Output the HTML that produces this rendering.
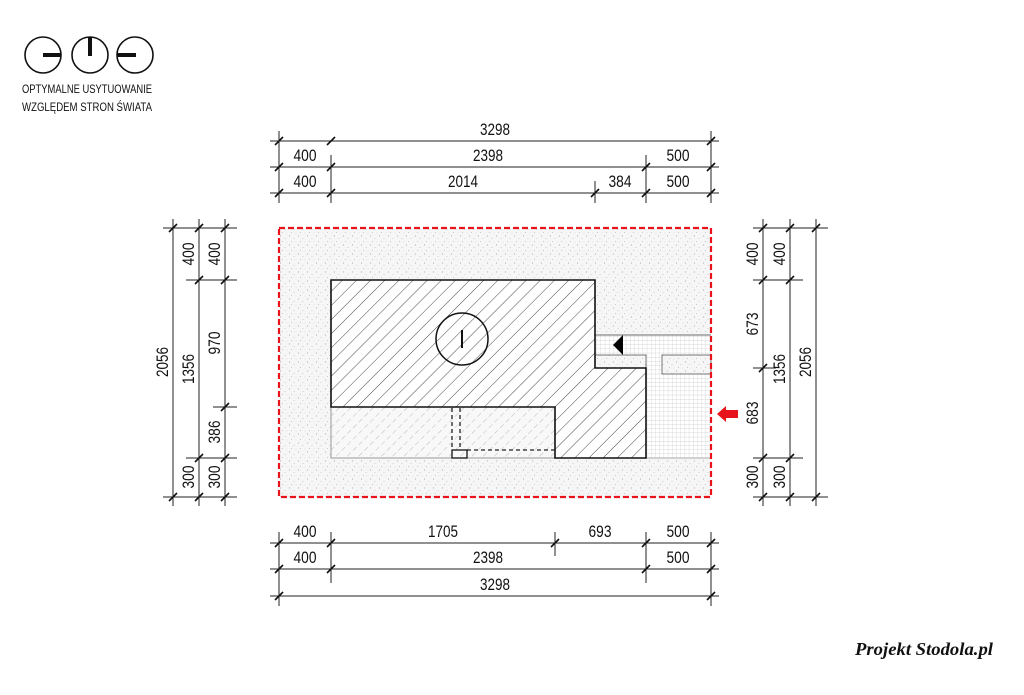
<!DOCTYPE html>
<html><head><meta charset="utf-8"><style>
html,body{margin:0;padding:0;background:#fff;}
svg{display:block;}
text{font-family:"Liberation Sans",sans-serif;fill:#111;}
</style></head><body>
<svg width="1024" height="695" viewBox="0 0 1024 695" xmlns="http://www.w3.org/2000/svg">
<defs>
<pattern id="dots" width="9" height="9" patternUnits="userSpaceOnUse">
<rect width="9" height="9" fill="#f6f6f6"/>
<circle cx="1.5" cy="2" r="0.6" fill="#b5b5b5"/><circle cx="6" cy="4.5" r="0.5" fill="#c0c0c0"/><circle cx="3.5" cy="7.5" r="0.5" fill="#b8b8b8"/><circle cx="8" cy="8" r="0.4" fill="#ccc"/>
</pattern>
<pattern id="hatch" width="10" height="10" patternUnits="userSpaceOnUse" patternTransform="rotate(45)">
<rect width="10" height="10" fill="#fff"/><line x1="0" y1="0" x2="0" y2="10" stroke="#333" stroke-width="0.9"/>
</pattern>
<pattern id="hatch2" width="8" height="8" patternUnits="userSpaceOnUse" patternTransform="rotate(45)">
<rect width="8" height="8" fill="#f8f8f8"/><line x1="0" y1="0" x2="0" y2="5" stroke="#aaa" stroke-width="0.8"/>
</pattern>
<pattern id="grid" width="4.2" height="4.2" patternUnits="userSpaceOnUse">
<rect width="4.2" height="4.2" fill="#fff"/><path d="M0 0H4.2M0 0V4.2" stroke="#c8c8c8" stroke-width="0.6"/>
</pattern>
</defs>

<g stroke="#111" fill="none" stroke-width="1.6">
<circle cx="43" cy="55" r="18"/><circle cx="90" cy="55" r="18"/><circle cx="135" cy="55" r="18"/>
</g>
<g stroke="#111" stroke-width="4">
<line x1="43" y1="55" x2="61" y2="55"/><line x1="90" y1="37" x2="90" y2="56"/><line x1="117" y1="55" x2="136" y2="55"/>
</g>
<text x="22" y="93" font-size="12" textLength="130" lengthAdjust="spacingAndGlyphs">OPTYMALNE USYTUOWANIE</text>
<text x="22" y="111" font-size="12" textLength="130" lengthAdjust="spacingAndGlyphs">WZGLĘDEM STRON ŚWIATA</text>

<rect x="279" y="228" width="432" height="269" fill="url(#dots)"/>
<path d="M595 335H711V458H646V368H595Z" fill="url(#grid)"/>
<rect x="595" y="355" width="51" height="13" fill="url(#dots)" stroke="#777" stroke-width="1"/>
<rect x="662" y="355" width="49" height="19" fill="url(#dots)" stroke="#777" stroke-width="1"/>
<line x1="595" y1="335" x2="711" y2="335" stroke="#888" stroke-width="1.2"/>
<line x1="646" y1="458" x2="711" y2="458" stroke="#aaa" stroke-width="1"/>
<rect x="331" y="407" width="224" height="51" fill="url(#hatch2)" stroke="#999" stroke-width="1"/>
<path d="M331 280H595V368H646V458H555V407H331Z" fill="url(#hatch)" stroke="#111" stroke-width="1.6"/>
<circle cx="462" cy="339" r="26" fill="none" stroke="#111" stroke-width="1.5"/>
<line x1="462" y1="330" x2="462" y2="348" stroke="#111" stroke-width="2"/>
<polygon points="613,345 623,335 623,355" fill="#000"/>
<g stroke="#222" stroke-width="1.3" stroke-dasharray="4,3" fill="none">
<line x1="452" y1="408" x2="452" y2="450"/><line x1="460" y1="408" x2="460" y2="450"/>
<line x1="467" y1="450" x2="555" y2="450"/>
</g>
<rect x="452" y="450" width="15" height="8" fill="none" stroke="#111" stroke-width="1.3"/>
<rect x="279" y="228" width="432" height="269" fill="none" stroke="#e8141c" stroke-width="2.2" stroke-dasharray="6,3"/>
<polygon points="717,414 726,406 726,410 738,410 738,418 726,418 726,422" fill="#e8141c"/>

<g stroke="#222" stroke-width="1" fill="none">
<line x1="270" y1="141" x2="719" y2="141"/><line x1="270" y1="167" x2="719" y2="167"/><line x1="270" y1="193" x2="719" y2="193"/>
<line x1="279" y1="131" x2="279" y2="203"/><line x1="711" y1="131" x2="711" y2="203"/>
<line x1="331" y1="155" x2="331" y2="203"/><line x1="646" y1="155" x2="646" y2="203"/><line x1="595" y1="181" x2="595" y2="203"/>
<line x1="270" y1="543" x2="719" y2="543"/><line x1="270" y1="569" x2="719" y2="569"/><line x1="270" y1="596" x2="719" y2="596"/>
<line x1="279" y1="532" x2="279" y2="606"/><line x1="711" y1="532" x2="711" y2="606"/>
<line x1="331" y1="532" x2="331" y2="583"/><line x1="646" y1="532" x2="646" y2="583"/><line x1="555" y1="532" x2="555" y2="556"/>
<line x1="173" y1="219" x2="173" y2="506"/><line x1="199" y1="219" x2="199" y2="506"/><line x1="225" y1="219" x2="225" y2="506"/>
<line x1="163" y1="228" x2="237" y2="228"/><line x1="163" y1="497" x2="237" y2="497"/>
<line x1="186" y1="280" x2="237" y2="280"/><line x1="186" y1="458" x2="237" y2="458"/><line x1="213" y1="407" x2="237" y2="407"/>
<line x1="763" y1="219" x2="763" y2="506"/><line x1="790" y1="219" x2="790" y2="506"/><line x1="816" y1="219" x2="816" y2="506"/>
<line x1="753" y1="228" x2="828" y2="228"/><line x1="753" y1="497" x2="828" y2="497"/>
<line x1="753" y1="280" x2="803" y2="280"/><line x1="753" y1="458" x2="803" y2="458"/><line x1="753" y1="368" x2="776" y2="368"/>
</g>
<g stroke="#111" stroke-width="1.6">
<path d="M275 145l8-8M327 145l8-8M707 145l8-8"/>
<path d="M275 171l8-8M327 171l8-8M642 171l8-8M707 171l8-8"/>
<path d="M275 197l8-8M327 197l8-8M591 197l8-8M642 197l8-8M707 197l8-8"/>
<path d="M275 547l8-8M327 547l8-8M551 547l8-8M642 547l8-8M707 547l8-8"/>
<path d="M275 573l8-8M327 573l8-8M642 573l8-8M707 573l8-8"/>
<path d="M275 600l8-8M707 600l8-8"/>
<path d="M169 232l8-8M169 501l8-8M195 232l8-8M195 284l8-8M195 462l8-8M195 501l8-8M221 232l8-8M221 284l8-8M221 411l8-8M221 462l8-8M221 501l8-8"/>
<path d="M759 232l8-8M759 284l8-8M759 372l8-8M759 462l8-8M759 501l8-8M786 232l8-8M786 284l8-8M786 462l8-8M786 501l8-8M812 232l8-8M812 501l8-8"/>
</g>
<g font-size="17" text-anchor="middle" lengthAdjust="spacingAndGlyphs">
<text x="495" y="135" textLength="30" lengthAdjust="spacingAndGlyphs">3298</text>
<text x="305" y="161" textLength="23" lengthAdjust="spacingAndGlyphs">400</text><text x="488" y="161" textLength="30" lengthAdjust="spacingAndGlyphs">2398</text><text x="678" y="161" textLength="23" lengthAdjust="spacingAndGlyphs">500</text>
<text x="305" y="187" textLength="23" lengthAdjust="spacingAndGlyphs">400</text><text x="463" y="187" textLength="30" lengthAdjust="spacingAndGlyphs">2014</text><text x="620" y="187" textLength="23" lengthAdjust="spacingAndGlyphs">384</text><text x="678" y="187" textLength="23" lengthAdjust="spacingAndGlyphs">500</text>
<text x="305" y="537" textLength="23" lengthAdjust="spacingAndGlyphs">400</text><text x="443" y="537" textLength="30" lengthAdjust="spacingAndGlyphs">1705</text><text x="600" y="537" textLength="23" lengthAdjust="spacingAndGlyphs">693</text><text x="678" y="537" textLength="23" lengthAdjust="spacingAndGlyphs">500</text>
<text x="305" y="563" textLength="23" lengthAdjust="spacingAndGlyphs">400</text><text x="488" y="563" textLength="30" lengthAdjust="spacingAndGlyphs">2398</text><text x="678" y="563" textLength="23" lengthAdjust="spacingAndGlyphs">500</text>
<text x="495" y="590" textLength="30" lengthAdjust="spacingAndGlyphs">3298</text>
<text transform="translate(168,362) rotate(-90)" textLength="30" lengthAdjust="spacingAndGlyphs">2056</text>
<text transform="translate(194,369) rotate(-90)" textLength="30" lengthAdjust="spacingAndGlyphs">1356</text>
<text transform="translate(194,254) rotate(-90)" textLength="23" lengthAdjust="spacingAndGlyphs">400</text>
<text transform="translate(220,254) rotate(-90)" textLength="23" lengthAdjust="spacingAndGlyphs">400</text>
<text transform="translate(220,343) rotate(-90)" textLength="23" lengthAdjust="spacingAndGlyphs">970</text>
<text transform="translate(220,432) rotate(-90)" textLength="23" lengthAdjust="spacingAndGlyphs">386</text>
<text transform="translate(194,477) rotate(-90)" textLength="23" lengthAdjust="spacingAndGlyphs">300</text>
<text transform="translate(220,477) rotate(-90)" textLength="23" lengthAdjust="spacingAndGlyphs">300</text>
<text transform="translate(758,254) rotate(-90)" textLength="23" lengthAdjust="spacingAndGlyphs">400</text>
<text transform="translate(785,254) rotate(-90)" textLength="23" lengthAdjust="spacingAndGlyphs">400</text>
<text transform="translate(758,324) rotate(-90)" textLength="23" lengthAdjust="spacingAndGlyphs">673</text>
<text transform="translate(758,413) rotate(-90)" textLength="23" lengthAdjust="spacingAndGlyphs">683</text>
<text transform="translate(785,369) rotate(-90)" textLength="30" lengthAdjust="spacingAndGlyphs">1356</text>
<text transform="translate(811,362) rotate(-90)" textLength="30" lengthAdjust="spacingAndGlyphs">2056</text>
<text transform="translate(758,477) rotate(-90)" textLength="23" lengthAdjust="spacingAndGlyphs">300</text>
<text transform="translate(785,477) rotate(-90)" textLength="23" lengthAdjust="spacingAndGlyphs">300</text>
</g>
<text x="855" y="655" font-style="italic" font-weight="bold" font-size="18" textLength="138" lengthAdjust="spacingAndGlyphs" style="font-family:'Liberation Serif',serif">Projekt Stodola.pl</text>
</svg>
</body></html>
